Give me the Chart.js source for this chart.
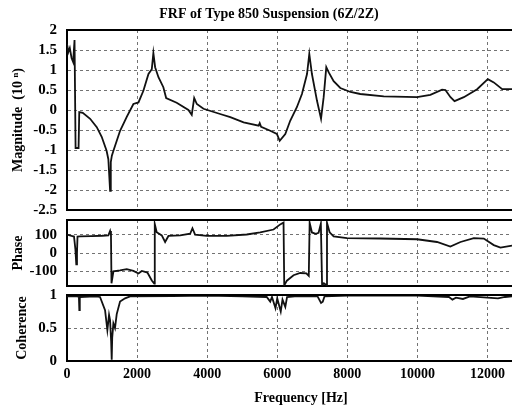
<!DOCTYPE html>
<html>
<head>
<meta charset="utf-8">
<script src="https://cdn.jsdelivr.net/npm/chart.js@4"></script>
<style>
  body { margin: 0; background: #fff; }
  .panel { position: absolute; left: 0; }
</style>
</head>
<body>
<div class="panel" style="top:0"><canvas id="magChart" width="512" height="222"></canvas></div>
<div class="panel" style="top:205px"><canvas id="phaseChart" width="512" height="92"></canvas></div>
<div class="panel" style="top:280px"><canvas id="cohChart" width="512" height="131"></canvas></div>
<script>
// ── Data ─────────────────────────────────────────────────────────────────────
const title = 'FRF of Type 850 Suspension (6Z/2Z)';
const xTitle = 'Frequency [Hz]';
const xTicks = [0, 2000, 4000, 6000, 8000, 10000, 12000];
const magTicks = [-2.5, -2, -1.5, -1, -0.5, 0, 0.5, 1, 1.5, 2];
const phaseTicks = [-100, 0, 100];
const cohTicks = [0, 0.5, 1];

const magFreq = [0, 40, 80, 130, 175, 215, 245, 330, 350, 450, 660, 850, 990, 1130, 1180, 1230, 1250, 1280, 1325,
  1515, 1705, 1895, 2040, 2180, 2325, 2420, 2465, 2515, 2610, 2750, 2830, 3130, 3465, 3560, 3630, 3705, 3895,
  4370, 4660, 5040, 5470, 5500, 5540, 5800, 5990, 6070, 6230, 6370, 6560, 6705, 6850, 6915, 6990, 7135, 7250,
  7325, 7400, 7470, 7610, 7800, 8090, 8370, 9040, 9990, 10370, 10705, 10800, 10945, 11060, 11325, 11705, 12010,
  12180, 12420, 12700];
const magVal = [1.65, 1.45, 1.55, 1.3, 1.2, 1.75, -0.95, -0.95, -0.05, -0.07, -0.22, -0.43, -0.67, -1.02, -1.23, -2.02, -1.3, -1.14, -1.02,
  -0.52, -0.17, 0.15, 0.19, 0.48, 0.9, 1.02, 1.42, 1.07, 0.82, 0.57, 0.3, 0.18, 0.0, -0.12, 0.3, 0.15, 0.03,
  -0.1, -0.18, -0.31, -0.39, -0.33, -0.42, -0.52, -0.6, -0.77, -0.6, -0.27, 0.07, 0.4, 0.9, 1.4, 0.9, 0.23, -0.22,
  0.32, 1.07, 0.94, 0.72, 0.55, 0.45, 0.4, 0.34, 0.32, 0.38, 0.51, 0.5, 0.32, 0.22, 0.32, 0.52, 0.77,
  0.69, 0.52, 0.52];

const phaseFreq = [0, 130, 200, 240, 265, 285, 300, 370, 700, 1000, 1180, 1230, 1255, 1270, 1325, 1515, 1705,
  1895, 2040, 2135, 2295, 2420, 2490, 2505, 2560, 2705, 2800, 2895, 3230, 3515, 3580, 3655, 3990, 4560, 5130,
  5515, 5895, 6085, 6180, 6200, 6275, 6465, 6655, 6830, 6900, 6925, 6990, 7100, 7180, 7245, 7280, 7330, 7400,
  7420, 7495, 7610, 7990, 8940, 9990, 10560, 10940, 11230, 11610, 11895, 12180, 12370, 12700];
const phaseVal = [100, 93, 90, 20, -62, 0, 90, 91, 92, 94, 96, 120, 96, -165, -100, -95, -88,
  -98, -112, -98, -107, -150, -167, 158, 113, 96, 60, 93, 96, 105, 135, 100, 93, 93, 101,
  113, 128, 156, 166, -177, -151, -121, -109, -111, -125, 165, 112, 105, 110, 160, -177, -165, -175,
  165, 113, 91, 81, 79, 75, 60, 35, 60, 81, 79, 43, 29, 40];

const cohFreq = [0, 300, 340, 352, 365, 800, 943, 1086, 1152, 1200, 1229, 1260, 1276, 1290, 1324, 1370, 1419,
  1514, 1657, 1800, 3000, 4000, 5000, 5700, 5800, 5850, 5950, 6000, 6100, 6150, 6230, 6280, 6500, 7150,
  7250, 7300, 7350, 8000, 10000, 10900, 11000, 11100, 11300, 11500, 12000, 12300, 12500, 12700];
const cohVal = [0.98, 0.98, 0.97, 0.77, 0.97, 0.98, 0.97, 0.77, 0.47, 0.7, 0.62, 0.3, 0.02, 0.35, 0.57, 0.5, 0.71,
  0.9, 0.95, 0.98, 0.985, 0.99, 0.98, 0.97, 0.9, 0.97, 0.8, 0.95, 0.75, 0.93, 0.82, 0.97, 0.98, 0.98,
  0.88, 0.9, 0.98, 0.99, 0.99, 0.97, 0.93, 0.96, 0.94, 0.98, 0.96, 0.95, 0.97, 0.98];

// ── Shared bits ──────────────────────────────────────────────────────────────
const FONT = "'Liberation Serif', 'DejaVu Serif', serif";
const X_MAX = 12700;
const pts = (xs, ys) => xs.map((x, i) => ({ x, y: ys[i] }));

// top edge of each box (Chart.js only draws the left/bottom borders)
const frameTop = {
  id: 'frameTop',
  afterDraw(chart) {
    const { ctx, chartArea: a } = chart;
    ctx.save();
    ctx.strokeStyle = '#000';
    ctx.lineWidth = 2;
    ctx.beginPath();
    ctx.moveTo(a.left, a.top);
    ctx.lineTo(a.right, a.top);
    ctx.stroke();
    ctx.restore();
  },
};

// free-placed text (title and x label sit off-centre in the scan)
const textAt = (id, text, x, y) => ({
  id,
  afterDraw(chart) {
    const ctx = chart.ctx;
    ctx.save();
    ctx.font = `bold 14px ${FONT}`;
    ctx.fillStyle = '#000';
    ctx.textAlign = 'center';
    ctx.textBaseline = 'middle';
    ctx.fillText(text, x, y);
    ctx.restore();
  },
});

const borderStyle = { display: true, color: '#000', width: 2, dash: [3, 3] };

function xScale(showLabels, height) {
  return {
    type: 'linear',
    min: 0,
    max: X_MAX,
    afterBuildTicks: s => { s.ticks = xTicks.map(v => ({ value: v })); },
    afterFit: s => { s.height = height; s.paddingLeft = 0; s.paddingRight = 0; },
    grid: { color: 'rgba(0,0,0,0.55)', lineWidth: 1, drawTicks: false },
    border: borderStyle,
    ticks: {
      display: showLabels,
      padding: 5,
      color: '#000',
      callback: v => String(v),
      font: { family: FONT, size: 14, weight: 'bold' },
    },
  };
}

function yScale(min, max, ticks, label, titlePad) {
  return {
    min,
    max,
    afterBuildTicks: s => { s.ticks = ticks.map(v => ({ value: v })); },
    afterFit: s => { s.width = 67; s.paddingTop = 0; s.paddingBottom = 0; },
    grid: {
      color: 'rgba(0,0,0,0.55)',
      lineWidth: 1,
      drawTicks: true,
      tickLength: 10,
      tickColor: 'rgba(0,0,0,0)',
    },
    border: borderStyle,
    ticks: {
      autoSkip: false,
      padding: 0,
      color: '#000',
      callback: v => String(v),
      font: { family: FONT, size: 15, weight: 'bold' },
    },
    title: {
      display: true,
      text: label,
      color: '#000',
      padding: { top: titlePad, bottom: 0 },
      font: { family: FONT, size: 14, weight: 'bold' },
    },
  };
}

function panel(canvasId, xs, ys, x, y, padTop, plugins) {
  return new Chart(document.getElementById(canvasId), {
    type: 'line',
    data: {
      datasets: [{
        data: pts(xs, ys),
        borderColor: '#111',
        borderWidth: 1.8,
        pointRadius: 0,
        tension: 0,
      }],
    },
    options: {
      responsive: false,
      animation: false,
      layout: { padding: { top: padTop, left: 0, right: 0, bottom: 0 } },
      plugins: { legend: { display: false }, tooltip: { enabled: false } },
      scales: { x, y },
    },
    plugins: [frameTop, ...plugins],
  });
}

// ── Magnitude ────────────────────────────────────────────────────────────────
panel('magChart', magFreq, magVal,
  xScale(false, 12),
  yScale(-2.5, 2, magTicks, 'Magnitude  (10 \u207F)', 10),
  30, [textAt('mainTitle', title, 269, 14)]);

// ── Phase ────────────────────────────────────────────────────────────────────
panel('phaseChart', phaseFreq, phaseVal,
  xScale(false, 11),
  yScale(-180, 180, phaseTicks, 'Phase', 10),
  15, []);

// ── Coherence ────────────────────────────────────────────────────────────────
panel('cohChart', cohFreq, cohVal,
  xScale(true, 50),
  yScale(0, 1, cohTicks, 'Coherence', 14),
  15, [textAt('xTitle', xTitle, 301, 118)]);
</script>
</body>
</html>
